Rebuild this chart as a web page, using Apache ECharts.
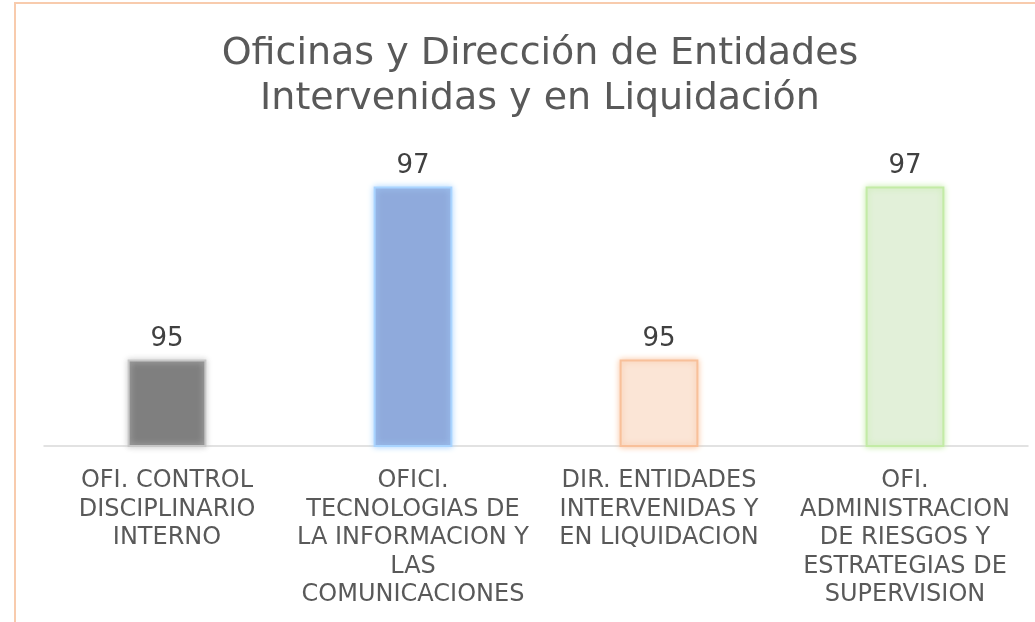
<!DOCTYPE html>
<html>
<head>
<meta charset="utf-8">
<script src="https://cdn.jsdelivr.net/npm/echarts@6/dist/echarts.min.js"></script>
<style>
  html, body { margin: 0; padding: 0; background: #fff; }
  #main { width: 1035px; height: 622px; }
</style>
</head>
<body>
<div id="main"></div>
<script>
// datos del grafico
var categorias = [
    'OFI. CONTROL\nDISCIPLINARIO\nINTERNO',
    'OFICI.\nTECNOLOGIAS DE\nLA INFORMACION Y\nLAS\nCOMUNICACIONES',
    'DIR. ENTIDADES\nINTERVENIDAS Y\nEN LIQUIDACION',
    'OFI.\nADMINISTRACION\nDE RIESGOS Y\nESTRATEGIAS DE\nSUPERVISION'
];
var valores = [95, 97, 95, 97];

// colores de cada barra: relleno, borde, brillo
var rellenos = ['#7F7F7F', '#8FAADC', '#FBE5D6', '#E2F0D9'];
var bordes = ['#C8C8C8', '#A9D4FF', '#F8C09A', '#C3EBA6'];

var myChart = echarts.init(document.getElementById('main'));

var datos = valores.map(function (v, i) {
    return {
        value: v,
        itemStyle: {
            color: rellenos[i],
            borderColor: bordes[i],
            borderWidth: 2,
            shadowColor: bordes[i],
            shadowBlur: 6
        }
    };
});

option = {
    backgroundColor: '#fff',
    graphic: [{
        type: 'rect',
        silent: true,
        shape: { x: 15, y: 3, width: 1100, height: 700 },
        style: { fill: 'none', stroke: '#F8CBAD', lineWidth: 2 }
    }],
    title: {
        text: 'Oficinas y Dirección de Entidades\nIntervenidas y en Liquidación',
        left: 535,
        textAlign: 'center',
        top: 27,
        textStyle: {
            fontFamily: 'DejaVu Sans',
            fontSize: 38,
            fontWeight: 'normal',
            color: '#595959',
            lineHeight: 45
        }
    },
    grid: {
        left: 44,
        right: 7,
        top: 100,
        bottom: 176
    },
    xAxis: {
        type: 'category',
        data: categorias,
        axisTick: { show: false },
        axisLine: { lineStyle: { color: '#D9D9D9', width: 1.5 } },
        axisLabel: {
            interval: 0,
            margin: 21,
            fontFamily: 'DejaVu Sans',
            fontSize: 24,
            lineHeight: 28.5,
            color: '#595959'
        }
    },
    yAxis: {
        type: 'value',
        min: 94,
        max: 98,
        show: false
    },
    series: [{
        type: 'bar',
        barWidth: '32%',
        data: datos,
        label: {
            show: true,
            position: 'top',
            distance: 7,
            fontFamily: 'DejaVu Sans',
            fontSize: 26,
            color: '#404040'
        }
    }]
};

myChart.setOption(option);
</script>
</body>
</html>
